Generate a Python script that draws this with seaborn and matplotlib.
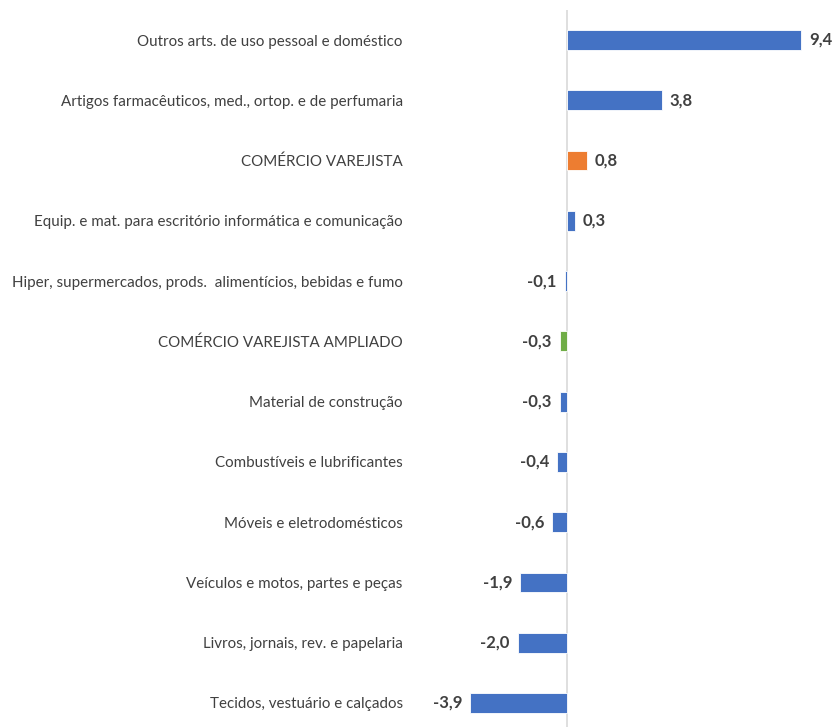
import matplotlib
matplotlib.use("Agg")
import matplotlib.pyplot as plt
import seaborn as sns
import pandas as pd

categories = [
    "Outros arts. de uso pessoal e doméstico",
    "Artigos farmacêuticos, med., ortop. e de perfumaria",
    "COMÉRCIO VAREJISTA",
    "Equip. e mat. para escritório informática e comunicação",
    "Hiper, supermercados, prods.  alimentícios, bebidas e fumo",
    "COMÉRCIO VAREJISTA AMPLIADO",
    "Material de construção",
    "Combustíveis e lubrificantes",
    "Móveis e eletrodomésticos",
    "Veículos e motos, partes e peças",
    "Livros, jornais, rev. e papelaria",
    "Tecidos, vestuário e calçados",
]
values = [9.4, 3.8, 0.8, 0.3, -0.1, -0.3, -0.3, -0.4, -0.6, -1.9, -2.0, -3.9]
groups = ["seg", "seg", "var", "seg", "seg", "amp", "seg", "seg", "seg", "seg", "seg", "seg"]
palette = {"seg": "#4472C4", "var": "#ED7D31", "amp": "#70AD47"}

df = pd.DataFrame({"cat": categories, "val": values, "grp": groups})

sns.set_style("white")
plt.rcParams["font.family"] = ["Lato", "DejaVu Sans"]

W, H = 833, 727
fig = plt.figure(figsize=(W / 100, H / 100), dpi=100)
ax = fig.add_axes([418 / W, 0, (816 - 418) / W, 717 / H])

sns.barplot(data=df, x="val", y="cat", hue="grp", palette=palette, dodge=False,
            legend=False, width=0.33, ax=ax, edgecolor="white", linewidth=0.6,
            saturation=1)

ax.set_xlim(-6, 10)
ax.set_ylim(11 + (727 - 703) / 60.27, -(40 - 10) / 60.27)
ax.axvline(0, color="#d9d9d9", lw=1.2, zorder=0)
for s in ax.spines.values():
    s.set_visible(False)
ax.set_xticks([])
ax.set_xlabel("")
ax.set_ylabel("")
ax.tick_params(axis="y", length=0, pad=11, labelsize=10.9, labelcolor="#404040")

for i, v in enumerate(values):
    txt = f"{v:.1f}".replace(".", ",")
    if v >= 0:
        ax.text(v + 0.32, i, txt, ha="left", va="center", fontsize=12,
                fontweight="bold", color="#404040", clip_on=False)
    else:
        ax.text(v - 0.32, i, txt, ha="right", va="center", fontsize=12,
                fontweight="bold", color="#404040", clip_on=False)

fig.savefig("out.png", dpi=100)
